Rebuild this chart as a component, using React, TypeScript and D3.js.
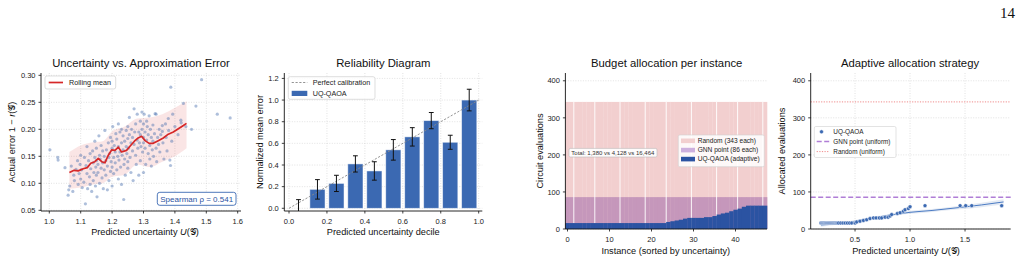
import React from 'react';
import * as d3 from 'd3';

const FONT = "'Liberation Sans', Arial, Helvetica, sans-serif";

// ---------- Panel 1 data ----------
const scatterU = [
  1.002,1.027,1.028,1.05,1.06,1.062,1.065,1.07,1.075,1.078,1.08,1.085,1.09,1.092,1.095,1.098,1.1,1.1,1.103,1.105,
  1.11,1.112,1.115,1.117,1.12,1.12,1.122,1.125,1.128,1.13,1.13,1.132,1.135,1.138,1.14,1.14,1.142,1.145,1.145,1.147,1.148,1.15,1.15,1.15,
  1.152,1.155,1.155,1.158,1.16,1.16,1.162,1.165,1.165,1.168,1.17,1.17,1.172,1.175,1.175,1.177,1.18,1.18,1.182,1.185,1.185,1.188,1.19,1.19,1.192,1.195,1.195,1.197,1.2,1.2,1.2,1.2,
  1.202,1.205,1.205,1.207,1.21,1.21,1.212,1.215,1.215,1.218,1.22,1.22,1.22,1.222,1.225,1.225,1.227,1.23,1.23,1.23,1.232,1.235,1.235,1.237,1.238,1.24,1.24,1.242,1.245,1.245,1.247,1.25,1.25,1.25,1.25,
  1.252,1.255,1.255,1.257,1.26,1.26,1.262,1.265,1.265,1.267,1.27,1.27,1.272,1.275,1.275,1.277,1.28,1.28,1.282,1.285,1.285,1.287,1.29,1.29,1.29,1.292,1.295,1.295,1.297,1.3,1.3,1.3,1.3,
  1.302,1.305,1.305,1.307,1.31,1.31,1.312,1.315,1.315,1.318,1.32,1.32,1.322,1.325,1.325,1.328,1.33,1.33,1.332,1.335,1.337,1.34,1.34,1.342,1.345,1.348,1.35,
  1.352,1.355,1.36,1.36,1.362,1.365,1.37,1.372,1.375,1.379,1.38,1.384,1.386,1.387,1.39,1.393,1.4,1.41,1.419,1.42,1.427,1.435,
  1.453,1.467,1.485,1.535,1.576
];
const scatterErr = [
  0.162,0.148,0.143,0.129,0.078,0.088,0.095,0.132,0.085,0.115,0.105,0.126,0.142,0.098,0.118,0.135,0.108,0.152,0.125,0.092,
  0.102,0.148,0.062,0.133,0.168,0.118,0.09,0.142,0.112,0.155,0.098,0.127,0.085,0.16,0.138,0.105,0.12,0.178,0.148,0.095,0.13,0.115,0.165,0.142,
  0.075,0.135,0.12,0.188,0.152,0.1,0.145,0.128,0.17,0.11,0.16,0.138,0.09,0.15,0.125,0.198,0.142,0.115,0.162,0.132,0.088,0.175,0.148,0.105,0.155,0.122,0.185,0.14,0.165,0.095,0.13,0.178,
  0.205,0.148,0.118,0.17,0.158,0.138,0.192,0.125,0.182,0.15,0.21,0.168,0.108,0.143,0.195,0.158,0.13,0.175,0.2,0.098,0.152,0.188,0.162,0.07,0.135,0.178,0.145,0.115,0.198,0.168,0.155,0.205,0.183,0.128,0.14,
  0.165,0.222,0.19,0.148,0.175,0.12,0.2,0.16,0.185,0.105,0.238,0.172,0.195,0.152,0.21,0.135,0.18,0.228,0.165,0.195,0.115,0.175,0.215,0.19,0.142,0.168,0.232,0.2,0.158,0.185,0.12,0.21,0.175,
  0.228,0.195,0.165,0.135,0.215,0.18,0.205,0.155,0.19,0.225,0.17,0.145,0.2,0.185,0.132,0.162,0.208,0.178,0.15,0.192,0.229,0.165,0.228,0.14,0.185,0.172,0.2,
  0.158,0.19,0.207,0.196,0.175,0.145,0.21,0.185,0.16,0.22,0.198,0.143,0.133,0.278,0.178,0.228,0.205,0.19,0.217,0.212,0.248,0.205,
  0.2,0.243,0.292,0.228,0.221
];
const rollU = [1.064,1.079,1.092,1.108,1.121,1.132,1.145,1.156,1.167,1.177,1.188,1.199,1.209,1.22,1.23,1.246,1.259,1.271,1.283,1.294,1.305,1.318,1.331,1.347,1.363,1.379,1.395,1.411,1.427,1.437];
const rollMean = [0.12,0.124,0.123,0.127,0.129,0.137,0.14,0.146,0.14,0.138,0.152,0.162,0.161,0.167,0.158,0.161,0.17,0.178,0.184,0.187,0.179,0.174,0.174,0.179,0.184,0.191,0.195,0.201,0.207,0.211];
const bandU = [1.064,1.1,1.14,1.17,1.2,1.24,1.28,1.32,1.36,1.4,1.437];
const bandLo = [0.09,0.092,0.098,0.1,0.112,0.116,0.135,0.13,0.14,0.15,0.165];
const bandHi = [0.158,0.17,0.176,0.178,0.196,0.205,0.22,0.222,0.228,0.24,0.252];
const p1XTicks = [1.0,1.1,1.2,1.3,1.4,1.5,1.6];
const p1YTicks = [0.05,0.1,0.15,0.2,0.25,0.3];

// ---------- Panel 2 data ----------
const decileCenters = [0.05,0.15,0.25,0.35,0.45,0.55,0.65,0.75,0.85,0.95];
const decileMeans = [0.0,0.175,0.23,0.41,0.345,0.54,0.66,0.81,0.61,1.0];
const decileErr = [0.08,0.09,0.075,0.075,0.085,0.095,0.085,0.075,0.065,0.1];
const p2XTicks = [0,0.2,0.4,0.6,0.8,1.0];
const p2YTicks = [0,0.2,0.4,0.6,0.8,1.0,1.2];

// ---------- Panel 3/4 data ----------
const allocAdaptive = [16,16,16,16,16,16,16,16,16,16,16,16,16,16,16,16,16,16,16,16,16,16,16,16,
  19,21,23,25,28,30,30,30,30,32,32,35,39,42,44,48,52,55,60,63,63,63,63,63];
const instanceU = [0.19,0.2,0.21,0.22,0.23,0.24,0.25,0.26,0.27,0.28,0.29,0.3,0.31,0.32,0.33,0.34,0.35,0.37,0.39,0.41,0.43,0.45,0.47,0.5,
  0.515,0.545,0.576,0.606,0.636,0.667,0.691,0.721,0.742,0.773,0.8,0.818,0.833,0.885,0.91,0.939,0.955,0.985,1.0,1.136,1.455,1.506,1.561,1.833];
const gnnEach = 86;
const randomEach = 343;
const whiteGaps = [1.5,6.5,12.5,18.5,23.5,29.5,35.5,40.5,46.5];
const p3XTicks = [0,10,20,30,40];
const p3YTicks = [0,100,200,300,400];
const fitU = [0.19,0.3,0.4,0.5,0.6,0.7,0.8,0.9,1.0,1.2,1.45,1.65,1.85];
const fitY = [10,13,16,21,27,32,37,41,45,50,58,65,73];
const fitLo = [6,10,13,18,24,29,34,38,41,46,53,59,66];
const fitHi = [14,16,19,24,30,35,40,44,49,54,63,71,80];
const p4XTicks = [0.5,1.0,1.5];

const BLUE = '#3b69b2';
const DARKBLUE = '#2b53a2';

type Box = { x0: number; x1: number; y0: number; y1: number };

function AxesFrame({ box, x, y, xTicks, yTicks, xFmt, yFmt, gridX, gridY, labelGapY = 7.7 }: any) {
  const b: Box = box;
  return (
    <g fontFamily={FONT} fontSize={7.5} fill="#222">
      {gridY && yTicks.map((t: number, i: number) => (
        <line key={'gy' + i} x1={b.x0} x2={b.x1} y1={y(t)} y2={y(t)} stroke="#cfcfcf" strokeWidth={0.6} strokeDasharray="1,1.5" />
      ))}
      {gridX && xTicks.map((t: number, i: number) => (
        <line key={'gx' + i} x1={x(t)} x2={x(t)} y1={b.y0} y2={b.y1} stroke="#cfcfcf" strokeWidth={0.6} strokeDasharray="1,1.5" />
      ))}
    </g>
  );
}

function AxesSpines({ box, x, y, xTicks, yTicks, xFmt, yFmt, labelGapY = 7.7 }: any) {
  const b: Box = box;
  return (
    <g fontFamily={FONT} fontSize={7.5} fill="#222">
      <line x1={b.x0} x2={b.x0} y1={b.y0} y2={b.y1} stroke="#111" strokeWidth={0.9} />
      <line x1={b.x0} x2={b.x1} y1={b.y1} y2={b.y1} stroke="#111" strokeWidth={0.9} />
      {xTicks.map((t: number, i: number) => (
        <g key={'xt' + i}>
          <line x1={x(t)} x2={x(t)} y1={b.y1} y2={b.y1 + 2.5} stroke="#111" strokeWidth={0.8} />
          <text x={x(t)} y={b.y1 + labelGapY + 5.3} textAnchor="middle">{xFmt(t)}</text>
        </g>
      ))}
      {yTicks.map((t: number, i: number) => (
        <g key={'yt' + i}>
          <line x1={b.x0 - 2.5} x2={b.x0} y1={y(t)} y2={y(t)} stroke="#111" strokeWidth={0.8} />
          <text x={b.x0 - 5.5} y={y(t) + 2.7} textAnchor="end">{yFmt(t)}</text>
        </g>
      ))}
    </g>
  );
}

const G = '\u{1D4A2}';

export default function App() {
  // Panel 1
  const b1: Box = { x0: 41, x1: 241, y0: 73, y1: 211 };
  const x1 = d3.scaleLinear().domain([0.9736, 1.6105]).range([b1.x0, b1.x1]);
  const y1 = d3.scaleLinear().domain([0.0487, 0.3043]).range([b1.y1, b1.y0]);
  const rollLine = d3.line<number>().x((d, i) => x1(rollU[i])).y((d) => y1(d))(rollMean) || '';
  const bandArea = d3.area<number>().x((d, i) => x1(bandU[i])).y0((d, i) => y1(bandLo[i])).y1((d) => y1(d)).curve(d3.curveMonotoneX)(bandHi) || '';

  // Panel 2
  const b2: Box = { x0: 284.3, x1: 482.3, y0: 73, y1: 211 };
  const x2 = d3.scaleLinear().domain([-0.0248, 1.019]).range([b2.x0, b2.x1]);
  const y2 = d3.scaleLinear().domain([-0.025, 1.25]).range([b2.y1, b2.y0]);
  const barW = x2(0.08) - x2(0);

  // Panel 3
  const b3: Box = { x0: 565.4, x1: 767, y0: 73, y1: 229 };
  const x3 = d3.scaleLinear().domain([-0.5, 47.5]).range([b3.x0, b3.x1]);
  const y3 = d3.scaleLinear().domain([0, 421]).range([b3.y1, b3.y0]);
  const bw3 = x3(1) - x3(0);

  // Panel 4
  const b4: Box = { x0: 810.7, x1: 1010.7, y0: 73, y1: 229 };
  const x4 = d3.scaleLinear().domain([0.097, 1.915]).range([b4.x0, b4.x1]);
  const y4 = y3.copy();
  const fitLine = d3.line<number>().x((d, i) => x4(fitU[i])).y((d) => y4(d)).curve(d3.curveMonotoneX)(fitY) || '';
  const fitArea = d3.area<number>().x((d, i) => x4(fitU[i])).y0((d, i) => y4(fitLo[i])).y1((d) => y4(d)).curve(d3.curveMonotoneX)(fitHi) || '';

  const f1 = (t: number) => t.toFixed(1);
  const f2 = (t: number) => t.toFixed(2);
  const f0 = (t: number) => String(t);

  return (
    <svg width={1023} height={262} style={{ position: 'absolute', left: 0, top: 0, background: '#fff' }} fontFamily={FONT}>
      <rect x={0} y={0} width={1023} height={262} fill="#fff" />
      <text x={1015} y={18} textAnchor="end" fontFamily="'Liberation Serif', 'DejaVu Serif', serif" fontSize={15} fill="#111">14</text>

      {/* ---------- Panel 1 ---------- */}
      <AxesFrame box={b1} x={x1} y={y1} xTicks={p1XTicks} yTicks={p1YTicks} gridX gridY />
      <path d={bandArea} fill="#d62728" fillOpacity={0.12} />
      {scatterU.map((u, i) => (
        <circle key={'s' + i} cx={x1(u)} cy={y1(scatterErr[i])} r={1.6} fill="#4c72b0" fillOpacity={0.45} />
      ))}
      <path d={rollLine} fill="none" stroke="#d62728" strokeWidth={1.7} strokeLinejoin="round" />
      <AxesSpines box={b1} x={x1} y={y1} xTicks={p1XTicks} yTicks={p1YTicks} xFmt={f1} yFmt={f2} />
      <text x={(b1.x0 + b1.x1) / 2} y={66.5} textAnchor="middle" fontSize={11.3} fill="#111">Uncertainty vs. Approximation Error</text>
      <text x={(b1.x0 + b1.x1) / 2 + 4} y={235} textAnchor="middle" fontSize={9.2} fill="#111">
        Predicted uncertainty <tspan fontStyle="italic">U</tspan>({G})
      </text>
      <text transform={`translate(14.5,${(b1.y0 + b1.y1) / 2}) rotate(-90)`} textAnchor="middle" fontSize={9.2} fill="#111">
        Actual error  1 − <tspan fontStyle="italic">r</tspan>({G})
      </text>
      <rect x={45} y={76} width={70.7} height={13} rx={2} fill="#fff" fillOpacity={0.85} stroke="#d0d0d0" strokeWidth={0.7} />
      <line x1={48.7} x2={63} y1={82.5} y2={82.5} stroke="#d62728" strokeWidth={1.7} />
      <text x={69} y={85} fontSize={7.2} fill="#222">Rolling mean</text>
      <rect x={157.3} y={192.3} width={78.7} height={13} rx={2.5} fill="#fff" stroke={BLUE} strokeWidth={0.9} />
      <text x={196.7} y={201.6} textAnchor="middle" fontSize={8} fill={DARKBLUE}>Spearman ρ = 0.541</text>

      {/* ---------- Panel 2 ---------- */}
      <AxesFrame box={b2} x={x2} y={y2} xTicks={p2XTicks} yTicks={p2YTicks} gridX gridY />
      {decileCenters.map((c, i) => (
        <rect key={'b' + i} x={x2(c) - barW / 2} y={Math.min(y2(decileMeans[i]), y2(0))} width={barW}
          height={Math.abs(y2(0) - y2(decileMeans[i]))} fill={BLUE} stroke="#fff" strokeOpacity={0.6} strokeWidth={0.8} />
      ))}
      <line x1={x2(0)} y1={y2(0)} x2={x2(1)} y2={y2(1)} stroke="#888" strokeWidth={0.9} strokeDasharray="2.2,1.6" />
      {decileCenters.map((c, i) => {
        const lo = Math.max(decileMeans[i] - decileErr[i], -0.025);
        const hi = decileMeans[i] + decileErr[i];
        return (
          <g key={'e' + i} stroke="#111" strokeWidth={1}>
            <line x1={x2(c)} x2={x2(c)} y1={y2(lo)} y2={y2(hi)} />
            <line x1={x2(c) - 2.4} x2={x2(c) + 2.4} y1={y2(hi)} y2={y2(hi)} />
            {decileMeans[i] - decileErr[i] > -0.02 && <line x1={x2(c) - 2.4} x2={x2(c) + 2.4} y1={y2(lo)} y2={y2(lo)} />}
          </g>
        );
      })}
      <AxesSpines box={b2} x={x2} y={y2} xTicks={p2XTicks} yTicks={p2YTicks} xFmt={f1} yFmt={f1} />
      <text x={(b2.x0 + b2.x1) / 2} y={66.5} textAnchor="middle" fontSize={11.3} fill="#111">Reliability Diagram</text>
      <text x={(b2.x0 + b2.x1) / 2} y={234.5} textAnchor="middle" fontSize={9.2} fill="#111">Predicted uncertainty decile</text>
      <text transform={`translate(262.5,${(b2.y0 + b2.y1) / 2}) rotate(-90)`} textAnchor="middle" fontSize={9.2} fill="#111">Normalized mean error</text>
      <rect x={288.3} y={76.7} width={86.7} height={22.6} rx={2} fill="#fff" fillOpacity={0.85} stroke="#d0d0d0" strokeWidth={0.7} />
      <line x1={291.7} x2={307.3} y1={82.5} y2={82.5} stroke="#888" strokeWidth={0.9} strokeDasharray="2.2,1.6" />
      <rect x={291.7} y={90.8} width={15.6} height={5.2} fill={BLUE} />
      <text x={312.7} y={85} fontSize={7.2} fill="#222">Perfect calibration</text>
      <text x={312.7} y={96} fontSize={7.2} fill="#222">UQ-QAOA</text>

      {/* ---------- Panel 3 ---------- */}
      <AxesFrame box={b3} x={x3} y={y3} xTicks={p3XTicks} yTicks={p3YTicks} gridY />
      {allocAdaptive.map((v, i) => (
        <rect key={'r' + i} x={x3(i) - bw3 / 2} y={y3(randomEach)} width={bw3 + 0.3} height={y3(0) - y3(randomEach)} fill="#f2cfcf" />
      ))}
      {allocAdaptive.map((v, i) => (
        <rect key={'g' + i} x={x3(i) - bw3 / 2} y={y3(gnnEach)} width={bw3 + 0.3} height={y3(0) - y3(gnnEach)} fill="#c597bb" />
      ))}
      {whiteGaps.map((g, i) => (
        <line key={'w' + i} x1={x3(g)} x2={x3(g)} y1={y3(randomEach)} y2={y3(0)} stroke="#fff" strokeWidth={0.9} />
      ))}
      {allocAdaptive.map((v, i) => (
        <rect key={'a' + i} x={x3(i) - bw3 / 2} y={y3(v)} width={bw3 + 0.3} height={y3(0) - y3(v)} fill={DARKBLUE} />
      ))}
      <AxesSpines box={b3} x={x3} y={y3} xTicks={p3XTicks} yTicks={p3YTicks} xFmt={f0} yFmt={f0} />
      <text x={666.7} y={66.5} textAnchor="middle" fontSize={11.3} fill="#111">Budget allocation per instance</text>
      <text x={665.8} y={253.5} textAnchor="middle" fontSize={9.2} fill="#111">Instance (sorted by uncertainty)</text>
      <text transform={`translate(542.5,${(b3.y0 + b3.y1) / 2}) rotate(-90)`} textAnchor="middle" fontSize={9.2} fill="#111">Circuit evaluations</text>
      <rect x={569} y={148.4} width={88} height={8.6} rx={1.5} fill="#fff" fillOpacity={0.9} stroke="#bbb" strokeWidth={0.6} />
      <text x={571.3} y={154.9} fontSize={6} fill="#333">Total: 1,380 vs 4,128 vs 16,464</text>
      <rect x={678.3} y={135} width={86} height={31.7} rx={1.5} fill="#fff" fillOpacity={0.85} stroke="#d0d0d0" strokeWidth={0.6} />
      <rect x={681} y={138.5} width={14} height={4.6} fill="#f2cfcf" />
      <rect x={681} y={147.8} width={14} height={4.6} fill="#cdb0de" />
      <rect x={681} y={156.8} width={14} height={4.6} fill={DARKBLUE} />
      <text x={697.7} y={143} fontSize={6.6} fill="#222">Random (343 each)</text>
      <text x={697.7} y={152.3} fontSize={6.6} fill="#222">GNN point (86 each)</text>
      <text x={697.7} y={161.3} fontSize={6.6} fill="#222">UQ-QAOA (adaptive)</text>

      {/* ---------- Panel 4 ---------- */}
      <AxesFrame box={b4} x={x4} y={y4} xTicks={p4XTicks} yTicks={p3YTicks} gridX gridY />
      <line x1={b4.x0} x2={b4.x1} y1={y4(randomEach)} y2={y4(randomEach)} stroke="#ef8a8a" strokeWidth={1} strokeDasharray="1.2,1.4" />
      <line x1={b4.x0} x2={b4.x1} y1={y4(gnnEach)} y2={y4(gnnEach)} stroke="#b07ed6" strokeWidth={1.5} strokeDasharray="5,2.5" />
      <path d={fitArea} fill="#4c72b0" fillOpacity={0.15} />
      <path d={fitLine} fill="none" stroke="#4c7cc4" strokeWidth={1} />
      {instanceU.map((u, i) => (
        <circle key={'p' + i} cx={x4(u)} cy={y4(allocAdaptive[i])} r={2} fill={BLUE} stroke="#fff" strokeWidth={0.5} />
      ))}
      <AxesSpines box={b4} x={x4} y={y4} xTicks={p4XTicks} yTicks={p3YTicks} xFmt={f1} yFmt={f0} />
      <text x={910} y={66.5} textAnchor="middle" fontSize={11.3} fill="#111">Adaptive allocation strategy</text>
      <text x={906} y={253.5} textAnchor="middle" fontSize={9.2} fill="#111">
        Predicted uncertainty <tspan fontStyle="italic">U</tspan>({G})
      </text>
      <text transform={`translate(785,${(b4.y0 + b4.y1) / 2}) rotate(-90)`} textAnchor="middle" fontSize={9.2} fill="#111">Allocated evaluations</text>
      <rect x={814.3} y={126.5} width={81.7} height={31} rx={1.5} fill="#fff" fillOpacity={0.85} stroke="#d0d0d0" strokeWidth={0.6} />
      <circle cx={821.5} cy={131.8} r={2} fill={BLUE} stroke="#fff" strokeWidth={0.5} />
      <line x1={816.7} x2={829.3} y1={141.5} y2={141.5} stroke="#b07ed6" strokeWidth={1.5} strokeDasharray="5,2.5" />
      <line x1={816.7} x2={829.3} y1={151.6} y2={151.6} stroke="#ef8a8a" strokeWidth={1} strokeDasharray="1.2,1.4" />
      <text x={833.3} y={134} fontSize={6.4} fill="#222">UQ-QAOA</text>
      <text x={833.3} y={143.8} fontSize={6.4} fill="#222">GNN point (uniform)</text>
      <text x={833.3} y={153.9} fontSize={6.4} fill="#222">Random (uniform)</text>
    </svg>
  );
}
